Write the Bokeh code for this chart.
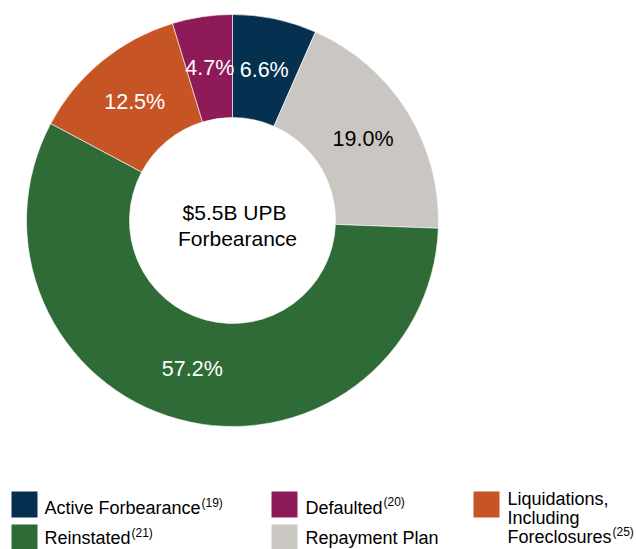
import math
from bokeh.plotting import figure
from bokeh.models import Range1d, ColumnDataSource
from bokeh.core.properties import value
from bokeh.embed import file_html
from bokeh.resources import INLINE

# ---- data (clockwise from top) ----
categories = ["Active Forbearance", "Repayment Plan", "Reinstated",
              "Liquidations, Including Foreclosures", "Defaulted"]
shares = [6.6, 19.0, 57.2, 12.5, 4.7]
labels = ["6.6%", "19.0%", "57.2%", "12.5%", "4.7%"]
colors = ["#06304F", "#CAC7C2", "#2E6B37", "#C75424", "#8E1A58"]
label_colors = ["white", "black", "white", "white", "white"]
center_lines = ["$5.5B UPB", "Forbearance"]

legend_names = ["Active Forbearance", "Defaulted", "Liquidations,\nIncluding\nForeclosures",
                "Reinstated", "Repayment Plan"]
legend_notes = ["(19)", "(20)", "(25)", "(21)", ""]
legend_colors = ["#06304F", "#8E1A58", "#C75424", "#2E6B37", "#CAC7C2"]

W, H = 636, 549
FONT = value("Liberation Sans")

def Y(py):
    return H - py

p = figure(width=W, height=H, output_backend="svg", toolbar_location=None,
           x_range=Range1d(0, W), y_range=Range1d(0, H), min_border=0)
p.axis.visible = False
p.grid.visible = False
p.outline_line_color = None
p.background_fill_color = "white"

cx, cy = 232, Y(220)
r_in, r_out = 103, 206
r_lab = 154

total = sum(shares)
starts, ends, lx, ly = [], [], [], []
cum = 0.0
for s in shares:
    a0 = math.pi / 2 - (cum + s) / total * 2 * math.pi
    a1 = math.pi / 2 - cum / total * 2 * math.pi
    starts.append(a0)
    ends.append(a1)
    mid = (a0 + a1) / 2
    lx.append(cx + r_lab * math.cos(mid))
    ly.append(cy + r_lab * math.sin(mid))
    cum += s

src = ColumnDataSource(dict(start=starts, end=ends, color=colors, lx=lx, ly=ly,
                            label=labels, lcol=label_colors))
p.annular_wedge(x=cx, y=cy, inner_radius=r_in, outer_radius=r_out,
                start_angle="start", end_angle="end", fill_color="color",
                line_color="white", line_width=0.6, source=src)
p.text(x="lx", y="ly", text="label", text_color="lcol", text_align="center",
       text_baseline="middle", text_font=FONT, text_font_size="21.5px", source=src)

# centre text
p.text(x=[234, 237], y=[Y(212), Y(238)], text=center_lines, text_align="center",
       text_baseline="middle", text_font=FONT, text_font_size="21px",
       text_color="black")

# ---- legend ----
sq_x = [11, 271, 473, 11, 271]
sq_y = [491, 491, 491, 524, 524]
txt_x = [44, 305, 507, 44, 305]
txt_y = [507.5, 507.5, 498, 537, 537]
note_x = [201, 383, 612, 131, 0]
note_y = [502, 501, 531, 532, 0]

for i in range(5):
    p.quad(left=sq_x[i], right=sq_x[i] + 26, top=Y(sq_y[i]), bottom=Y(min(sq_y[i] + 26, H)),
           fill_color=legend_colors[i], line_color=None)
    lines = legend_names[i].split("\n")
    for j, line in enumerate(lines):
        p.text(x=[txt_x[i]], y=[Y(txt_y[i] + 19 * j)], text=[line],
               text_baseline="middle", text_align="left", text_font=FONT,
               text_font_size="18px", text_color="black")
    if legend_notes[i]:
        p.text(x=[note_x[i]], y=[Y(note_y[i])], text=[legend_notes[i]],
               text_baseline="middle", text_align="left", text_font=FONT,
               text_font_size="12px", text_color="black")

open("out.html", "w").write(file_html(p, INLINE))
